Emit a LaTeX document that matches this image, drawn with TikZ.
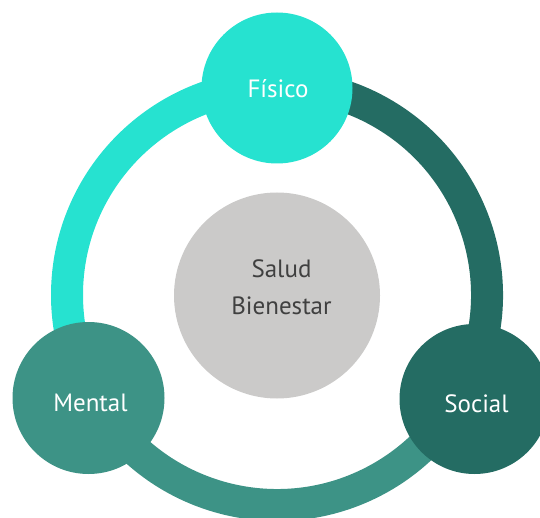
\documentclass[tikz,border=0pt]{standalone}
\usepackage{fontspec}
\setmainfont{PT Sans}
\usepackage{tikz}

\definecolor{fisicoC}{HTML}{26E2D0}
\definecolor{mentalC}{HTML}{3D9386}
\definecolor{socialC}{HTML}{246C63}
\definecolor{saludC}{HTML}{CBCAC9}
\definecolor{textoC}{HTML}{404040}

\begin{document}
\begin{tikzpicture}[x=1pt,y=1pt,
    ring/.style={line width=32pt},
    bubble/.style={circle,inner sep=0pt,minimum size=151pt},
    tag/.style={text=white,font=\fontsize{25}{30}\selectfont}]
    \useasboundingbox (0,0) rectangle (540,517);
    % 外环
    \coordinate (O) at (277,222);
    \draw[ring, fisicoC] ([shift={(90:210pt)}]O) arc[start angle=90, end angle=209, radius=210pt];
    \draw[ring, mentalC] ([shift={(209:210pt)}]O) arc[start angle=209, end angle=332, radius=210pt];
    \draw[ring, socialC] ([shift={(332:210pt)}]O) arc[start angle=332, end angle=450, radius=210pt];

    % 中心
    \node[circle, fill=saludC, inner sep=0pt, minimum size=206pt] (salud) at (277,221.5) {};
    \node[anchor=base, align=center, text=textoC, font=\fontsize{25}{37}\selectfont]
        (tSalud) at (281.5,203) {Salud\\Bienestar};

    % 三个圆
    \node[bubble, fill=fisicoC] (fisico) at (277,429) {};
    \node[bubble, fill=mentalC, minimum size=152pt] (mental) at (88.5,119) {};
    \node[bubble, fill=socialC, minimum size=150pt] (social) at (474.5,118) {};

    \node[tag] (tFisico) at ([xshift=1pt,yshift=-1pt]fisico) {Físico};
    \node[tag] (tMental) at ([xshift=2pt,yshift=-5pt]mental) {Mental};
    \node[tag] (tSocial) at ([xshift=2pt,yshift=-5pt]social) {Social};
\end{tikzpicture}
\end{document}
